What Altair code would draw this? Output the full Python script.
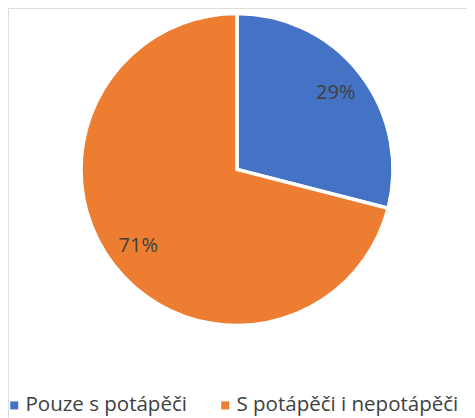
import altair as alt
import pandas as pd

categories = ["Pouze s potápěči", "S potápěči i nepotápěči"]
values = [29, 71]
labels = ["29%", "71%"]
colors = ["#4472C4", "#ED7D31"]

df = pd.DataFrame({"cat": categories, "val": values, "lab": labels, "ord": [0, 1]})

cx, cy = 229, 161.5

base = alt.Chart(df).encode(
    theta=alt.Theta("val:Q", stack=True),
    order=alt.Order("ord:Q"),
    x=alt.value(cx),
    y=alt.value(cy),
)

pie = base.mark_arc(radius=156, stroke="white", strokeWidth=3.5).encode(
    color=alt.Color(
        "cat:N",
        scale=alt.Scale(domain=categories, range=colors),
        sort=categories,
        legend=alt.Legend(
            title=None,
            orient="none",
            direction="horizontal",
            legendX=-4,
            legendY=387,
            padding=0,
            symbolType="square",
            symbolSize=64,
            symbolStrokeWidth=0,
            labelFont="Open Sans",
            labelFontSize=20.5,
            labelColor="#404040",
            columnPadding=28,
            labelOffset=1,
            labelLimit=300,
        ),
    )
)

text = base.mark_text(radius=125, font="Open Sans", fontSize=20, color="#404040").encode(
    text="lab:N"
)

chart = (
    alt.layer(pie, text)
    .properties(width=459, height=410, autosize=alt.AutoSizeParams(type="none"), padding=0)
    .configure_view(stroke=None)
    .configure(background="white")
)

chart.save("out.html", embed_options={"renderer": "svg", "actions": False})
